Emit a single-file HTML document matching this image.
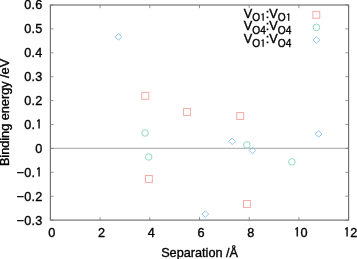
<!DOCTYPE html>
<html><head><meta charset="utf-8"><style>html,body{margin:0;padding:0;background:#fff;width:357px;height:259px;overflow:hidden}svg{display:block}</style></head>
<body>
<svg width="357" height="259" viewBox="0 0 357 259">
<style>text{font-family:"Liberation Sans",Arial,sans-serif;font-size:12.7px;fill:#000;stroke:#000;stroke-width:0.35px} .s{font-size:10.16px} .yl{letter-spacing:0.3px}</style>
<line x1="50.4" y1="148.3" x2="348.6" y2="148.3" stroke="#a4a4a4" stroke-width="1.0"/>
<line x1="50.40" y1="220.10000000000002" x2="50.40" y2="216.90000000000003" stroke="#6e6e6e" stroke-width="0.7"/>
<line x1="50.40" y1="5.0" x2="50.40" y2="8.2" stroke="#6e6e6e" stroke-width="0.7"/>
<line x1="100.10" y1="220.10000000000002" x2="100.10" y2="216.90000000000003" stroke="#6e6e6e" stroke-width="0.7"/>
<line x1="100.10" y1="5.0" x2="100.10" y2="8.2" stroke="#6e6e6e" stroke-width="0.7"/>
<line x1="149.80" y1="220.10000000000002" x2="149.80" y2="216.90000000000003" stroke="#6e6e6e" stroke-width="0.7"/>
<line x1="149.80" y1="5.0" x2="149.80" y2="8.2" stroke="#6e6e6e" stroke-width="0.7"/>
<line x1="199.50" y1="220.10000000000002" x2="199.50" y2="216.90000000000003" stroke="#6e6e6e" stroke-width="0.7"/>
<line x1="199.50" y1="5.0" x2="199.50" y2="8.2" stroke="#6e6e6e" stroke-width="0.7"/>
<line x1="249.20" y1="220.10000000000002" x2="249.20" y2="216.90000000000003" stroke="#6e6e6e" stroke-width="0.7"/>
<line x1="249.20" y1="5.0" x2="249.20" y2="8.2" stroke="#6e6e6e" stroke-width="0.7"/>
<line x1="298.90" y1="220.10000000000002" x2="298.90" y2="216.90000000000003" stroke="#6e6e6e" stroke-width="0.7"/>
<line x1="298.90" y1="5.0" x2="298.90" y2="8.2" stroke="#6e6e6e" stroke-width="0.7"/>
<line x1="348.60" y1="220.10000000000002" x2="348.60" y2="216.90000000000003" stroke="#6e6e6e" stroke-width="0.7"/>
<line x1="348.60" y1="5.0" x2="348.60" y2="8.2" stroke="#6e6e6e" stroke-width="0.7"/>
<line x1="50.4" y1="220.10" x2="53.6" y2="220.10" stroke="#6e6e6e" stroke-width="0.7"/>
<line x1="348.6" y1="220.10" x2="345.40000000000003" y2="220.10" stroke="#6e6e6e" stroke-width="0.7"/>
<line x1="50.4" y1="196.20" x2="53.6" y2="196.20" stroke="#6e6e6e" stroke-width="0.7"/>
<line x1="348.6" y1="196.20" x2="345.40000000000003" y2="196.20" stroke="#6e6e6e" stroke-width="0.7"/>
<line x1="50.4" y1="172.30" x2="53.6" y2="172.30" stroke="#6e6e6e" stroke-width="0.7"/>
<line x1="348.6" y1="172.30" x2="345.40000000000003" y2="172.30" stroke="#6e6e6e" stroke-width="0.7"/>
<line x1="50.4" y1="148.40" x2="53.6" y2="148.40" stroke="#6e6e6e" stroke-width="0.7"/>
<line x1="348.6" y1="148.40" x2="345.40000000000003" y2="148.40" stroke="#6e6e6e" stroke-width="0.7"/>
<line x1="50.4" y1="124.50" x2="53.6" y2="124.50" stroke="#6e6e6e" stroke-width="0.7"/>
<line x1="348.6" y1="124.50" x2="345.40000000000003" y2="124.50" stroke="#6e6e6e" stroke-width="0.7"/>
<line x1="50.4" y1="100.60" x2="53.6" y2="100.60" stroke="#6e6e6e" stroke-width="0.7"/>
<line x1="348.6" y1="100.60" x2="345.40000000000003" y2="100.60" stroke="#6e6e6e" stroke-width="0.7"/>
<line x1="50.4" y1="76.70" x2="53.6" y2="76.70" stroke="#6e6e6e" stroke-width="0.7"/>
<line x1="348.6" y1="76.70" x2="345.40000000000003" y2="76.70" stroke="#6e6e6e" stroke-width="0.7"/>
<line x1="50.4" y1="52.80" x2="53.6" y2="52.80" stroke="#6e6e6e" stroke-width="0.7"/>
<line x1="348.6" y1="52.80" x2="345.40000000000003" y2="52.80" stroke="#6e6e6e" stroke-width="0.7"/>
<line x1="50.4" y1="28.90" x2="53.6" y2="28.90" stroke="#6e6e6e" stroke-width="0.7"/>
<line x1="348.6" y1="28.90" x2="345.40000000000003" y2="28.90" stroke="#6e6e6e" stroke-width="0.7"/>
<line x1="50.4" y1="5.00" x2="53.6" y2="5.00" stroke="#6e6e6e" stroke-width="0.7"/>
<line x1="348.6" y1="5.00" x2="345.40000000000003" y2="5.00" stroke="#6e6e6e" stroke-width="0.7"/>
<rect x="50.4" y="5.0" width="298.20" height="215.10" fill="none" stroke="#6e6e6e" stroke-width="1.15"/>
<rect x="141.85" y="92.40" width="6.9" height="6.9" fill="none" stroke="#f4aca8" stroke-width="1.0"/>
<rect x="183.55" y="108.55" width="6.9" height="6.9" fill="none" stroke="#f4aca8" stroke-width="1.0"/>
<rect x="236.75" y="112.52" width="6.9" height="6.9" fill="none" stroke="#f4aca8" stroke-width="1.0"/>
<rect x="145.45" y="175.52" width="6.9" height="6.9" fill="none" stroke="#f4aca8" stroke-width="1.0"/>
<rect x="243.50" y="200.50" width="6.9" height="6.9" fill="none" stroke="#f4aca8" stroke-width="1.0"/>
<circle cx="145.05" cy="132.95" r="3.3" fill="none" stroke="#92dac4" stroke-width="1.0"/>
<circle cx="148.70" cy="156.93" r="3.3" fill="none" stroke="#92dac4" stroke-width="1.0"/>
<circle cx="246.90" cy="144.95" r="3.3" fill="none" stroke="#92dac4" stroke-width="1.0"/>
<circle cx="291.85" cy="161.87" r="3.3" fill="none" stroke="#92dac4" stroke-width="1.0"/>
<path d="M115.15 36.85L118.45 33.55L121.75 36.85L118.45 40.15Z" fill="none" stroke="#90c4ec" stroke-width="1.0"/>
<path d="M228.85 141.30L232.15 138.00L235.45 141.30L232.15 144.60Z" fill="none" stroke="#90c4ec" stroke-width="1.0"/>
<path d="M249.15 150.50L252.45 147.20L255.75 150.50L252.45 153.80Z" fill="none" stroke="#90c4ec" stroke-width="1.0"/>
<path d="M202.05 214.10L205.35 210.80L208.65 214.10L205.35 217.40Z" fill="none" stroke="#90c4ec" stroke-width="1.0"/>
<path d="M315.25 134.00L318.55 130.70L321.85 134.00L318.55 137.30Z" fill="none" stroke="#90c4ec" stroke-width="1.0"/>
<rect x="312.85" y="11.35" width="6.9" height="6.9" fill="none" stroke="#f4aca8" stroke-width="1.0"/>
<circle cx="316.45" cy="27.40" r="3.3" fill="none" stroke="#92dac4" stroke-width="1.0"/>
<path d="M313.10 40.00L316.40 36.70L319.70 40.00L316.40 43.30Z" fill="none" stroke="#90c4ec" stroke-width="1.0"/>
<text x="42.70" y="224.50" text-anchor="end" class="yl">−0.3</text>
<text x="42.70" y="200.60" text-anchor="end" class="yl">−0.2</text>
<text x="42.39" y="176.70" text-anchor="end" class="yl">−0.<tspan font-family="IPAGothic,Liberation Sans,sans-serif" dx="0.40">1</tspan></text>
<text x="42.70" y="152.80" text-anchor="end" class="yl">0</text>
<text x="42.39" y="128.90" text-anchor="end" class="yl">0.<tspan font-family="IPAGothic,Liberation Sans,sans-serif" dx="0.40">1</tspan></text>
<text x="42.70" y="105.00" text-anchor="end" class="yl">0.2</text>
<text x="42.70" y="81.10" text-anchor="end" class="yl">0.3</text>
<text x="42.70" y="57.20" text-anchor="end" class="yl">0.4</text>
<text x="42.70" y="33.30" text-anchor="end" class="yl">0.5</text>
<text x="42.70" y="9.40" text-anchor="end" class="yl">0.6</text>
<text x="51.90" y="237.1" text-anchor="middle">0</text>
<text x="101.60" y="237.1" text-anchor="middle">2</text>
<text x="151.30" y="237.1" text-anchor="middle">4</text>
<text x="201.00" y="237.1" text-anchor="middle">6</text>
<text x="250.70" y="237.1" text-anchor="middle">8</text>
<text x="300.40" y="237.1" text-anchor="middle"><tspan font-family="IPAGothic,Liberation Sans,sans-serif" dx="0.40">1</tspan><tspan dx="0.31">0</tspan></text>
<text x="350.10" y="237.1" text-anchor="middle"><tspan font-family="IPAGothic,Liberation Sans,sans-serif" dx="0.40">1</tspan><tspan dx="0.31">2</tspan></text>
<text x="199.6" y="256.5" text-anchor="middle">Separation /Å</text>
<text transform="translate(9.2,112.5) rotate(-90)" x="0" y="0" text-anchor="middle">Binding energy /eV</text>
<text x="291.15" y="17.6" text-anchor="end">V<tspan class="s" dy="3.8">O<tspan font-family="IPAGothic,Liberation Sans,sans-serif" dx="0.32">1</tspan></tspan><tspan dy="-3.8" dx="0.25">:V</tspan><tspan class="s" dy="3.8">O<tspan font-family="IPAGothic,Liberation Sans,sans-serif" dx="0.32">1</tspan></tspan></text>
<text x="291.40" y="30.3" text-anchor="end">V<tspan class="s" dy="3.8">O4</tspan><tspan dy="-3.8" dx="0.00">:V</tspan><tspan class="s" dy="3.8">O4</tspan></text>
<text x="291.40" y="43.0" text-anchor="end">V<tspan class="s" dy="3.8">O<tspan font-family="IPAGothic,Liberation Sans,sans-serif" dx="0.32">1</tspan></tspan><tspan dy="-3.8" dx="0.25">:V</tspan><tspan class="s" dy="3.8">O4</tspan></text>
</svg>
</body></html>
